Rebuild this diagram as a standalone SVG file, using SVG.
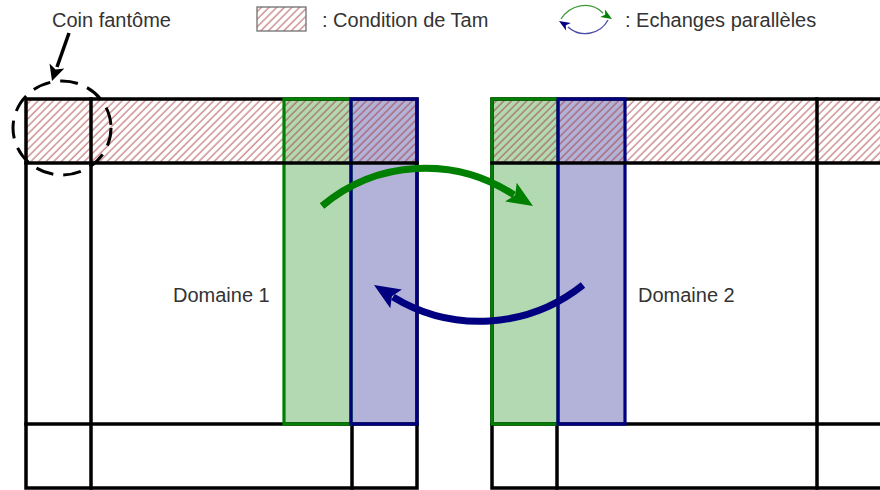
<svg xmlns="http://www.w3.org/2000/svg" width="880" height="490" viewBox="0 0 880 490">
<style>
text{font-family:"Liberation Sans",Arial,sans-serif;font-size:20px;fill:#333}
.blk{stroke:#000;stroke-width:3.5;fill:none;stroke-linecap:square}
.gcol{fill:#b3d9b3}
.bcol{fill:#b3b3d9}
.gstr{fill:none;stroke:#008000;stroke-width:3.2}
.bstr{fill:none;stroke:#000080;stroke-width:3.2}
</style>
<defs>
<pattern id="hatch" patternUnits="userSpaceOnUse" width="5.4" height="10" patternTransform="rotate(45)">
<line x1="1" y1="-1" x2="1" y2="11" stroke="#a02828" stroke-width="0.8"/>
</pattern>
</defs>
<rect width="880" height="490" fill="#fff"/>

<g id="legend">
<text x="52" y="27">Coin fantôme</text>
<rect x="257" y="7" width="49" height="24" fill="url(#hatch)" stroke="#707070" stroke-width="1.3"/>
<text x="322" y="27">: Condition de Tam</text>
<path d="M561,19 C570,5 590,0 603,13" fill="none" stroke="#3a9a3a" stroke-width="1.3"/>
<path d="M612,19 L605,9.4 L605.2,14.8 L600.2,17 Z" fill="#008000"/>
<path d="M608,20 C600,35 580,38 568,27" fill="none" stroke="#4a4aa8" stroke-width="1.3"/>
<path d="M559,21 L570.8,23 L565.8,25.2 L566,30.6 Z" fill="#000080"/>
<text x="625" y="27">: Echanges parallèles</text>
</g>

<g id="domain1">
<rect class="gcol" x="284" y="99" width="67" height="325"/>
<rect class="bcol" x="351" y="99" width="66" height="325"/>
<rect x="26" y="99" width="391" height="64" fill="url(#hatch)"/>
<rect class="blk" x="26" y="99" width="391" height="389"/>
<line class="blk" x1="91" y1="99" x2="91" y2="488"/>
<line class="blk" x1="26" y1="424" x2="417" y2="424"/>
<line class="blk" x1="352" y1="424" x2="352" y2="488"/>
<rect class="gstr" x="284" y="99" width="67" height="325"/>
<rect class="bstr" x="351" y="99" width="66" height="325"/>
<line class="blk" x1="26" y1="163" x2="417" y2="163"/>
<text x="173" y="302">Domaine 1</text>
</g>

<g id="domain2">
<rect class="gcol" x="492" y="99" width="66" height="325"/>
<rect class="bcol" x="558" y="99" width="67" height="325"/>
<rect x="492" y="99" width="400" height="64" fill="url(#hatch)"/>
<path class="blk" d="M885,99 H492 V488 H885"/>
<line class="blk" x1="817" y1="99" x2="817" y2="488"/>
<line class="blk" x1="492" y1="424" x2="885" y2="424"/>
<line class="blk" x1="557" y1="424" x2="557" y2="488"/>
<rect class="gstr" x="492" y="99" width="66" height="325"/>
<rect class="bstr" x="558" y="99" width="67" height="325"/>
<line class="blk" x1="492" y1="163" x2="885" y2="163"/>
<text x="638" y="302">Domaine 2</text>
</g>

<g id="ghost-corner">
<ellipse cx="62" cy="128" rx="49" ry="47" fill="none" stroke="#000" stroke-width="3" stroke-dasharray="18 10"/>
</g>

<g id="connectors">
<path d="M69,33 L57,67" fill="none" stroke="#000" stroke-width="3.5"/>
<path d="M52,81 L49.5,63.5 L55.6,69.6 L64.3,68.6 Z" fill="#000"/>
<path d="M322,206 A160,160 0 0 1 514,195" fill="none" stroke="#008000" stroke-width="7"/>
<path d="M533,206 L516.7,182.8 L515.2,194.9 L505.1,201.6 Z" fill="#008000"/>
<path d="M583,285 A166,166 0 0 1 393,297" fill="none" stroke="#000080" stroke-width="7"/>
<path d="M374,285 L401.9,289.4 L391.9,296.2 L390.3,308.2 Z" fill="#000080"/>
</g>
</svg>
